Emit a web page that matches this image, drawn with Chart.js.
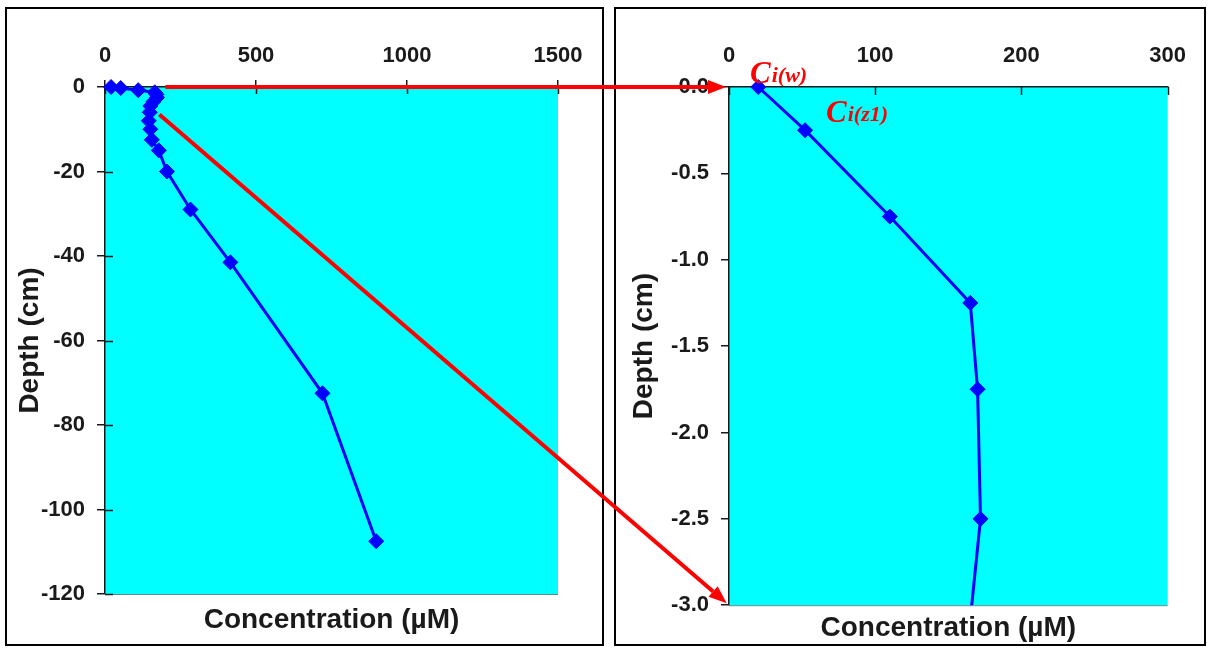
<!DOCTYPE html>
<html>
<head>
<meta charset="utf-8">
<script src="https://cdn.jsdelivr.net/npm/chart.js@4.4.0/dist/chart.umd.min.js"></script>
<style>
  body { margin: 0; background: #fff; width: 1208px; height: 648px; position: relative; overflow: hidden; }
  .frame { position: absolute; top: 7px; height: 639px; border: 2px solid #000; box-sizing: border-box; }
  #frameL { left: 5px; width: 599px; }
  #frameR { left: 614px; width: 592px; }
  .frame canvas { display: block; }
  #arrows { position: absolute; left: 0; top: 0; pointer-events: none; }
  .lbl { position: absolute; color: #ff0000; font: italic bold 31px "Liberation Serif", serif; line-height: 1; white-space: nowrap; }
  .lbl span { font-size: 22px; position: relative; top: -1px; margin-left: 1px; }
</style>
</head>
<body>
<div class="frame" id="frameL"><canvas id="left" width="595" height="635"></canvas></div>
<div class="frame" id="frameR"><canvas id="right" width="588" height="635"></canvas></div>
<canvas id="arrows" width="1208" height="648"></canvas>
<div class="lbl" style="left:750px;top:57px">C<span>i(w)</span></div>
<div class="lbl" style="left:826px;top:96px">C<span>i(z1)</span></div>
<script>
// depth profile
const depthCm = [0, -0.25, -0.75, -1.25, -1.75, -2.5, -3.5, -4.5, -6, -8, -10, -12.5, -15, -20, -29, -41.5, -72.5, -107.5];
const concUM = [20, 52, 110, 165, 170, 172, 160, 150, 148, 145, 150, 155, 178, 205, 283, 415, 720, 898];

const xTitle = 'Concentration (µM)';
const yTitle = 'Depth (cm)';

// arrow ends: [conc, depth] on the left chart -> [conc, depth] on the right chart
const arrowLinks = [
  { from: [200, 0], to: [0, 0] },
  { from: [180, -6.5], to: [0, -3] }
];

const ink = '#1a1a1a';
const tickFont = { family: "'Liberation Sans', Arial, sans-serif", size: 22, weight: 'bold' };
const titleFont = { family: "'Liberation Sans', Arial, sans-serif", size: 28, weight: 'bold', lineHeight: 1.1 };

// cyan plot area, bottom edge and inner tick marks
const plotFrame = {
  id: 'plotFrame',
  beforeDraw(chart, args, opts) {
    const { ctx, chartArea: a } = chart;
    ctx.save();
    ctx.fillStyle = '#00ffff';
    ctx.fillRect(a.left, a.top, a.right - a.left, a.bottom - a.top);
    ctx.strokeStyle = '#5a8a8a';
    ctx.lineWidth = 1;
    ctx.beginPath();
    ctx.moveTo(a.left, a.bottom + 0.5);
    ctx.lineTo(a.right, a.bottom + 0.5);
    ctx.stroke();
    ctx.restore();
  },
  beforeDatasetsDraw(chart, args, opts) {
    const { ctx, chartArea: a, scales } = chart;
    ctx.save();
    ctx.strokeStyle = ink;
    ctx.lineWidth = 1.5;
    ctx.beginPath();
    if (opts.innerX) {
      scales.x.ticks.forEach((t, i) => {
        const px = Math.round(scales.x.getPixelForTick(i)) + 0.5;
        ctx.moveTo(px, a.top);
        ctx.lineTo(px, a.top + opts.innerX);
      });
    }
    if (opts.innerY) {
      scales.y.ticks.forEach((t, i) => {
        const py = Math.round(scales.y.getPixelForTick(i)) + 0.5;
        ctx.moveTo(a.left, py);
        ctx.lineTo(a.left + opts.innerY, py);
      });
    }
    ctx.stroke();
    ctx.restore();
  }
};

function makeChart(id, o) {
  return new Chart(document.getElementById(id), {
    type: 'scatter',
    data: {
      datasets: [{
        data: depthCm.map((d, i) => ({ x: concUM[i], y: d })),
        showLine: true,
        borderColor: '#0000ff',
        backgroundColor: '#0000ff',
        borderWidth: 3,
        pointStyle: 'rectRot',
        pointRadius: 7.5,
        pointBorderWidth: 1,
        clip: o.clip
      }]
    },
    options: {
      responsive: false,
      animation: false,
      events: [],
      layout: { padding: { left: 0, top: 0, right: o.padRight, bottom: o.padBottom } },
      plugins: {
        legend: { display: false },
        tooltip: { enabled: false },
        title: {
          display: true,
          position: 'bottom',
          fullSize: false,
          text: xTitle,
          color: ink,
          font: titleFont,
          padding: { top: o.titleGap, bottom: 0 }
        },
        plotFrame: { innerX: o.innerX, innerY: o.innerY }
      },
      scales: {
        x: {
          type: 'linear',
          position: 'top',
          min: o.xMin,
          max: o.xMax,
          ticks: { stepSize: o.xStep, font: tickFont, color: ink, padding: o.xPad, callback: v => String(v) },
          grid: { drawOnChartArea: false, drawTicks: o.outerX > 0, tickLength: o.outerX, color: ink, lineWidth: 1.5 },
          border: { color: ink, width: 1.5 },
          afterFit: s => { s.height = o.top; }
        },
        y: {
          type: 'linear',
          min: o.yMin,
          max: 0,
          ticks: { stepSize: o.yStep, font: tickFont, color: ink, padding: 12, callback: o.yFmt },
          grid: { drawOnChartArea: false, tickLength: 8, color: ink, lineWidth: 1.5 },
          border: { color: ink, width: 1.5 },
          title: { display: true, text: yTitle, color: ink, font: titleFont, padding: { top: o.yTitlePad, bottom: 0 } },
          afterFit: s => { s.width = o.left; }
        }
      }
    },
    plugins: [plotFrame]
  });
}

const leftChart = makeChart('left', {
  xMin: 0, xMax: 1500, xStep: 500, yMin: -120, yStep: 20,
  yFmt: v => String(v),
  left: 98, top: 78, padRight: 44, padBottom: 8.2, titleGap: 11,
  outerX: 7, innerX: 7, innerY: 8, xPad: 11, yTitlePad: 8,
  clip: false
});

const rightChart = makeChart('right', {
  xMin: 0, xMax: 300, xStep: 100, yMin: -3, yStep: 0.5,
  yFmt: v => v.toFixed(1),
  left: 113, top: 78, padRight: 36, padBottom: 0, titleGap: 8,
  outerX: 0, innerX: 8, innerY: 0, xPad: 18, yTitlePad: 13,
  clip: { left: false, top: false, right: 0, bottom: 0 }
});

// red arrows joining the two panels
function pagePoint(chart, conc, depth) {
  const r = chart.canvas.getBoundingClientRect();
  return [r.left + chart.scales.x.getPixelForValue(conc), r.top + chart.scales.y.getPixelForValue(depth)];
}

const actx = document.getElementById('arrows').getContext('2d');
actx.strokeStyle = '#ff0000';
actx.fillStyle = '#ff0000';
actx.lineWidth = 4;
arrowLinks.forEach(link => {
  const [x0, y0] = pagePoint(leftChart, link.from[0], link.from[1]);
  let [x1, y1] = pagePoint(rightChart, link.to[0], link.to[1]);
  const ang = Math.atan2(y1 - y0, x1 - x0);
  x1 -= 3 * Math.cos(ang);
  y1 -= 3 * Math.sin(ang);
  const head = 18, half = 7;
  const bx = x1 - head * Math.cos(ang), by = y1 - head * Math.sin(ang);
  actx.beginPath();
  actx.moveTo(x0, y0);
  actx.lineTo(bx, by);
  actx.stroke();
  actx.beginPath();
  actx.moveTo(x1, y1);
  actx.lineTo(bx + half * Math.sin(ang), by - half * Math.cos(ang));
  actx.lineTo(bx - half * Math.sin(ang), by + half * Math.cos(ang));
  actx.closePath();
  actx.fill();
});
</script>
</body>
</html>
